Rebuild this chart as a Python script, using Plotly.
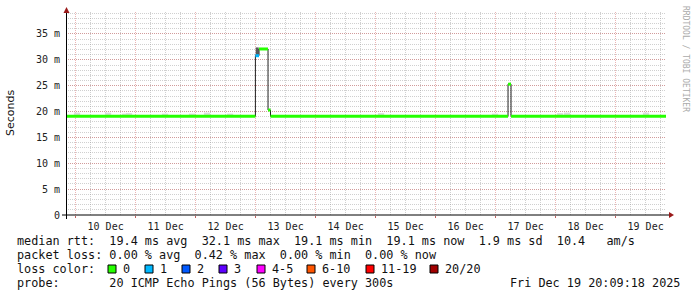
import plotly.graph_objects as go
from datetime import datetime, timedelta

W, H = 697, 297
L, R, T, B = 66, 666, 12, 215  # plot area in pixels

def px(x):
    return (x - L) / (R - L)

def py(y):
    return (B - y) / (B - T)

# ---------------- data ----------------
t_start = "2025-12-09 20:09:18"
t_end = "2025-12-19 20:09:18"

# median rtt (ms) as step segments, with ping loss count per segment
seg_times = ["2025-12-09 20:09:18", "2025-12-12 23:55", "2025-12-13 01:22",
             "2025-12-13 04:58", "2025-12-13 05:57", "2025-12-17 04:58",
             "2025-12-17 06:10"]
seg_median = [19.1, 30.8, 32.1, 20.3, 19.1, 25.3, 19.1]
seg_loss = [0, 1, 0, 0, 0, 0, 0]

# light smoke (spread of individual pings) around the median
smoke_times = ["2025-12-10 00:34", "2025-12-10 12:58", "2025-12-10 19:46",
               "2025-12-10 21:22", "2025-12-11 11:46", "2025-12-11 22:34",
               "2025-12-12 04:34", "2025-12-12 13:46", "2025-12-15 02:10",
               "2025-12-16 23:46", "2025-12-18 01:46", "2025-12-18 04:34",
               "2025-12-19 12:10"]
smoke_lo = [19.1] * 13
smoke_hi = [19.8, 19.8, 19.6, 19.7, 19.6, 19.6, 19.8, 19.6, 19.7, 19.6, 19.7, 19.8, 19.8]

# dense smoke during the spike
dense_times = ["2025-12-13 00:38"]
dense_lo = [30.8]
dense_hi = [32.4]

loss_labels = ["0", "1", "2", "3", "4-5", "6-10", "11-19", "20/20"]
loss_colors = ["#26ff00", "#00b8ff", "#0059ff", "#5e00ff", "#ff00ff",
               "#ff5500", "#ff0000", "#a10000"]

y_tickvals = [0, 5, 10, 15, 20, 25, 30, 35]
y_ticktext = ["0", "5 m", "10 m", "15 m", "20 m", "25 m", "30 m", "35 m"]

stats_lines = [
    "median rtt:  19.4 ms avg  32.1 ms max  19.1 ms min  19.1 ms now  1.9 ms sd  10.4   am/s",
    "packet loss: 0.00 % avg  0.42 % max  0.00 % min  0.00 % now",
    "loss color:",
    "probe:       20 ICMP Echo Pings (56 Bytes) every 300s",
]
stamp = "Fri Dec 19 20:09:18 2025"

# ---------------- figure ----------------
fig = go.Figure()

# smoke
fig.add_trace(go.Bar(
    x=smoke_times, base=smoke_lo,
    y=[h - l for h, l in zip(smoke_hi, smoke_lo)],
    width=[2.5 * 3600 * 1000] * len(smoke_times),
    marker=dict(color="#dcdcdc", line=dict(width=0)),
    showlegend=False, hoverinfo="skip"))
fig.add_trace(go.Bar(
    x=dense_times, base=dense_lo,
    y=[h - l for h, l in zip(dense_hi, dense_lo)],
    width=[1.2 * 3600 * 1000] * len(dense_times),
    marker=dict(color="#5a5a5a", line=dict(width=0)),
    showlegend=False, hoverinfo="skip"))

# thin dark median step line
fig.add_trace(go.Scatter(
    x=seg_times + [t_end], y=seg_median + [seg_median[-1]],
    mode="lines", line=dict(color="#202020", width=1, shape="hv"),
    showlegend=False, hoverinfo="skip"))

# coloured median segments by loss
ends = seg_times[1:] + [t_end]
for li, col in enumerate(loss_colors):
    xs, ys = [], []
    for i in range(len(seg_times)):
        if seg_loss[i] == li:
            xs += [seg_times[i], ends[i], None]
            ys += [seg_median[i], seg_median[i], None]
    if xs:
        fig.add_trace(go.Scatter(
            x=xs, y=ys, mode="lines",
            line=dict(color=col, width=3),
            showlegend=False, hoverinfo="skip"))

grid_minor = "rgba(150,150,150,0.45)"
grid_major = "rgba(210,90,90,0.45)"

fig.update_layout(
    width=W, height=H,
    margin=dict(l=L, r=W - R, t=T, b=H - B, pad=0),
    paper_bgcolor="white", plot_bgcolor="white",
    barmode="overlay",
    font=dict(family="DejaVu Sans Mono", size=10, color="#222"),
    xaxis=dict(
        type="date", range=[t_start, t_end],
        tick0="2025-12-10", dtick=86400000,
        ticklabelmode="period", tickformat="%d %b",
        ticks="outside", ticklen=2, tickcolor="#c06060",
        showgrid=True, gridcolor=grid_major, griddash="1px,1px", gridwidth=1,
        minor=dict(dtick=21600000, tick0="2025-12-10", showgrid=True,
                   gridcolor=grid_minor, griddash="1px,1px", gridwidth=1),
        showline=False, zeroline=False,
        tickfont=dict(family="DejaVu Sans Mono", size=10, color="#222"),
        fixedrange=True,
    ),
    yaxis=dict(
        range=[0, 39.25],
        tickvals=y_tickvals, ticktext=y_ticktext,
        ticks="outside", ticklen=3, tickcolor="rgba(0,0,0,0)",
        showgrid=True, gridcolor=grid_major, griddash="1px,1px", gridwidth=1,
        minor=dict(dtick=1, tick0=0, showgrid=True,
                   gridcolor=grid_minor, griddash="1px,1px", gridwidth=1),
        showline=False, zeroline=False,
        tickfont=dict(family="DejaVu Sans Mono", size=10, color="#222"),
        fixedrange=True,
    ),
)

shapes = []
# axis lines
shapes.append(dict(type="line", xref="paper", yref="paper",
                   x0=px(62), x1=px(669), y0=py(215), y1=py(215),
                   line=dict(color="black", width=1)))
shapes.append(dict(type="line", xref="paper", yref="paper",
                   x0=px(66.5), x1=px(66.5), y0=py(219), y1=py(12),
                   line=dict(color="black", width=1)))
# arrows
shapes.append(dict(type="path", xref="paper", yref="paper",
                   path=f"M {px(669)} {py(212)} L {px(674)} {py(215)} L {px(669)} {py(218)} Z",
                   fillcolor="#9a1a1a", line=dict(color="#9a1a1a", width=0)))
shapes.append(dict(type="path", xref="paper", yref="paper",
                   path=f"M {px(63.5)} {py(13)} L {px(66.5)} {py(7)} L {px(69.5)} {py(13)} Z",
                   fillcolor="#9a1a1a", line=dict(color="#9a1a1a", width=0)))

annotations = []
mono = dict(family="DejaVu Sans Mono", size=11.8, color="#111")
row_y = [241, 255, 269, 283]
for txt, yy in zip(stats_lines, row_y):
    annotations.append(dict(xref="paper", yref="paper", x=px(15), y=py(yy),
                            xanchor="left", yanchor="middle", showarrow=False,
                            text=txt.replace(" ", "\u00a0"), font=mono))
annotations.append(dict(xref="paper", yref="paper", x=px(682), y=py(283),
                        xanchor="right", yanchor="middle", showarrow=False,
                        text=stamp.replace(" ", "\u00a0"), font=mono))

# loss colour legend swatches
sw_x = [108, 145, 182, 219, 257, 307, 366, 430]
for sx, lab, col in zip(sw_x, loss_labels, loss_colors):
    shapes.append(dict(type="rect", xref="paper", yref="paper",
                       x0=px(sx), x1=px(sx + 8), y0=py(273), y1=py(265),
                       fillcolor=col, line=dict(color="black", width=1)))
    annotations.append(dict(xref="paper", yref="paper", x=px(sx + 13), y=py(269),
                            xanchor="left", yanchor="middle", showarrow=False,
                            text=lab, font=mono))

# y axis title
annotations.append(dict(xref="paper", yref="paper", x=px(11), y=py(113),
                        xanchor="center", yanchor="middle", showarrow=False,
                        text="Seconds", textangle=-90,
                        font=dict(family="DejaVu Sans", size=11, color="#111")))
# watermark
annotations.append(dict(xref="paper", yref="paper", x=px(686), y=py(59),
                        xanchor="center", yanchor="middle", showarrow=False,
                        text="RRDTOOL / TOBI OETIKER", textangle=90,
                        font=dict(family="DejaVu Sans Mono", size=8, color="#aaaaaa")))

fig.update_layout(shapes=shapes, annotations=annotations)
fig.write_html("out.html")
